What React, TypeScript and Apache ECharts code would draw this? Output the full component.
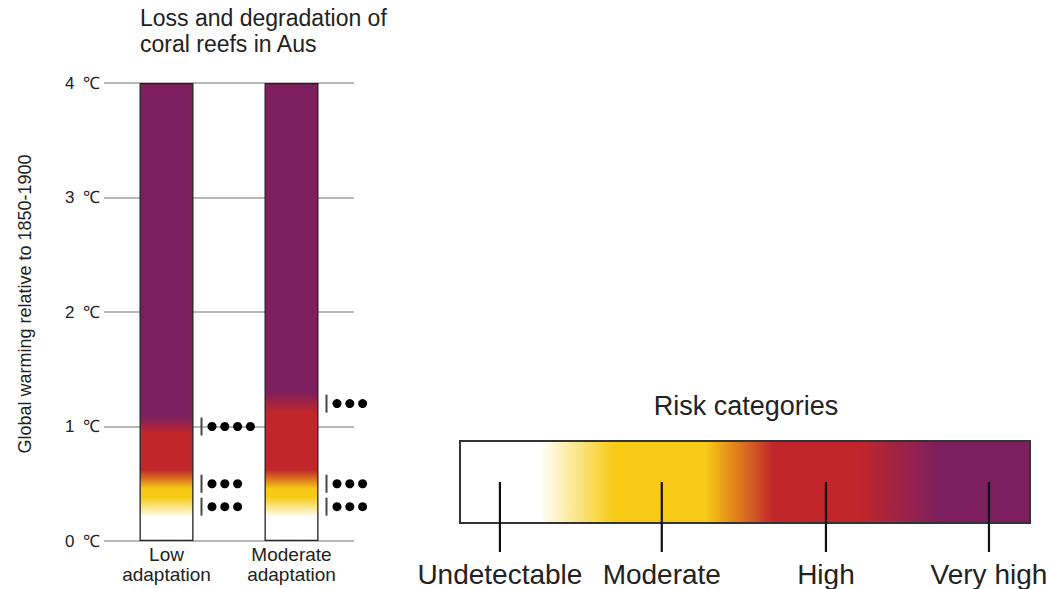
import React, { useEffect, useRef } from "react";
import * as echarts from "echarts";

const FONT = "'Liberation Sans', Arial, Helvetica, sans-serif";

const titleText = "Loss and degradation of\ncoral reefs in Aus";
const yAxisName = "Global warming relative to 1850-1900";
const categories = ["Low\nadaptation", "Moderate\nadaptation"];
const barTops = [4, 4];
const yTicks = [0, 1, 2, 3, 4];

const palette: Record<string, string> = {
  white: "#ffffff",
  yellow: "#f7cb15",
  orange: "#de7a1d",
  red: "#c1262b",
  purple: "#7d1f5e",
};

// transitions: [temperature (°C), risk colour]
const lowStops: [number, string][] = [
  [0, "white"], [0.2, "white"], [0.38, "yellow"], [0.45, "yellow"],
  [0.53, "orange"], [0.62, "red"], [0.94, "red"], [1.08, "purple"], [4, "purple"],
];
const moderateStops: [number, string][] = [
  [0, "white"], [0.2, "white"], [0.38, "yellow"], [0.45, "yellow"],
  [0.53, "orange"], [0.62, "red"], [1.12, "red"], [1.3, "purple"], [4, "purple"],
];

// confidence markers: [temperature, number of dots]
const lowConfidence: [number, number][] = [[1.0, 4], [0.5, 3], [0.3, 3]];
const moderateConfidence: [number, number][] = [[1.2, 3], [0.5, 3], [0.3, 3]];

const riskTitle = "Risk categories";
const riskCategories = ["Undetectable", "Moderate", "High", "Very high"];
const riskPositions = [0.07, 0.354, 0.642, 0.928];
const legendStops: [number, string][] = [
  [0, "white"], [0.14, "white"], [0.27, "yellow"], [0.43, "yellow"],
  [0.49, "orange"], [0.55, "red"], [0.7, "red"], [0.84, "purple"], [1, "purple"],
];

function barGradient(stops: [number, string][], top: number) {
  return new echarts.graphic.LinearGradient(
    0, 1, 0, 0,
    stops.map(([v, c]) => ({ offset: v / top, color: palette[c] }))
  );
}

export default function App() {
  const ref = useRef<HTMLDivElement>(null);
  useEffect(() => {
    if (!ref.current) return;
    const chart = echarts.init(ref.current, undefined, { renderer: "svg" });

    const confidenceData: number[][] = [
      ...lowConfidence.map(([t, n]) => [0, t, n]),
      ...moderateConfidence.map(([t, n]) => [1, t, n]),
    ];

    const LX = 460, LY = 441, LW = 570, LH = 82;
    const legendGraphics: any[] = [
      {
        type: "text",
        x: 746,
        y: 406,
        style: { text: riskTitle, fontSize: 27, fill: "#222", fontFamily: FONT, align: "center", verticalAlign: "middle" },
      },
      {
        type: "rect",
        shape: { x: LX, y: LY, width: LW, height: LH },
        style: {
          fill: new echarts.graphic.LinearGradient(
            0, 0, 1, 0,
            legendStops.map(([o, c]) => ({ offset: o, color: palette[c] }))
          ),
          stroke: "#333",
          lineWidth: 2,
        },
      },
      ...riskPositions.map((p) => ({
        type: "line",
        shape: { x1: LX + LW * p, y1: 482, x2: LX + LW * p, y2: 552 },
        style: { stroke: "#111", lineWidth: 2.2 },
      })),
      ...riskCategories.map((t, i) => ({
        type: "text",
        x: LX + LW * riskPositions[i],
        y: 574,
        style: { text: t, fontSize: 28, fill: "#222", fontFamily: FONT, align: "center", verticalAlign: "middle" },
      })),
    ];

    chart.setOption({
      animation: false,
      textStyle: { fontFamily: FONT },
      title: {
        text: titleText,
        left: 140,
        top: 5,
        padding: 0,
        textStyle: { fontSize: 23, lineHeight: 26, fontWeight: "normal", color: "#222", fontFamily: FONT },
      },
      grid: { left: 104, top: 83, width: 250, height: 458 },
      xAxis: {
        type: "category",
        data: categories,
        axisLine: { show: false },
        axisTick: { show: false },
        axisLabel: { fontSize: 19, lineHeight: 20, color: "#222", margin: 3, fontFamily: FONT },
      },
      yAxis: {
        type: "value",
        min: 0,
        max: 4,
        interval: 1,
        name: yAxisName,
        nameLocation: "middle",
        nameRotate: 90,
        nameGap: 70,
        nameTextStyle: { fontSize: 18, color: "#222", fontFamily: FONT, padding: [0, 0, 0, 16] },
        axisLine: { show: false },
        axisTick: { show: false },
        axisLabel: {
          formatter: (v: number) => (yTicks.includes(v) ? `${v}\u2002℃` : ""),
          fontSize: 17,
          color: "#222",
          margin: 4,
          fontFamily: FONT,
        },
        splitLine: { show: true, lineStyle: { color: "#a0a0a0", width: 1.5 } },
      },
      series: [
        {
          type: "bar",
          barWidth: 54,
          data: [
            { value: barTops[0], itemStyle: { color: barGradient(lowStops, barTops[0]) } },
            { value: barTops[1], itemStyle: { color: barGradient(moderateStops, barTops[1]) } },
          ],
          itemStyle: { borderColor: "#222", borderWidth: 1.3 },
        },
        {
          type: "custom",
          data: confidenceData,
          clip: false,
          renderItem: (params: any, api: any) => {
            const pt = api.coord([api.value(0), api.value(1)]);
            const n = api.value(2);
            const children: any[] = [
              {
                type: "line",
                shape: { x1: pt[0] + 35, y1: pt[1] - 9, x2: pt[0] + 35, y2: pt[1] + 9 },
                style: { stroke: "#444", lineWidth: 2 },
              },
            ];
            for (let i = 0; i < n; i++) {
              children.push({
                type: "circle",
                shape: { cx: pt[0] + 45.5 + i * 12.8, cy: pt[1], r: 4.5 },
                style: { fill: "#000" },
              });
            }
            return { type: "group", children };
          },
        },
      ],
      graphic: legendGraphics,
    });
    return () => chart.dispose();
  }, []);
  return (
    <div
      ref={ref}
      style={{ position: "absolute", left: 0, top: 0, width: 1049, height: 589, background: "#fff" }}
    />
  );
}
